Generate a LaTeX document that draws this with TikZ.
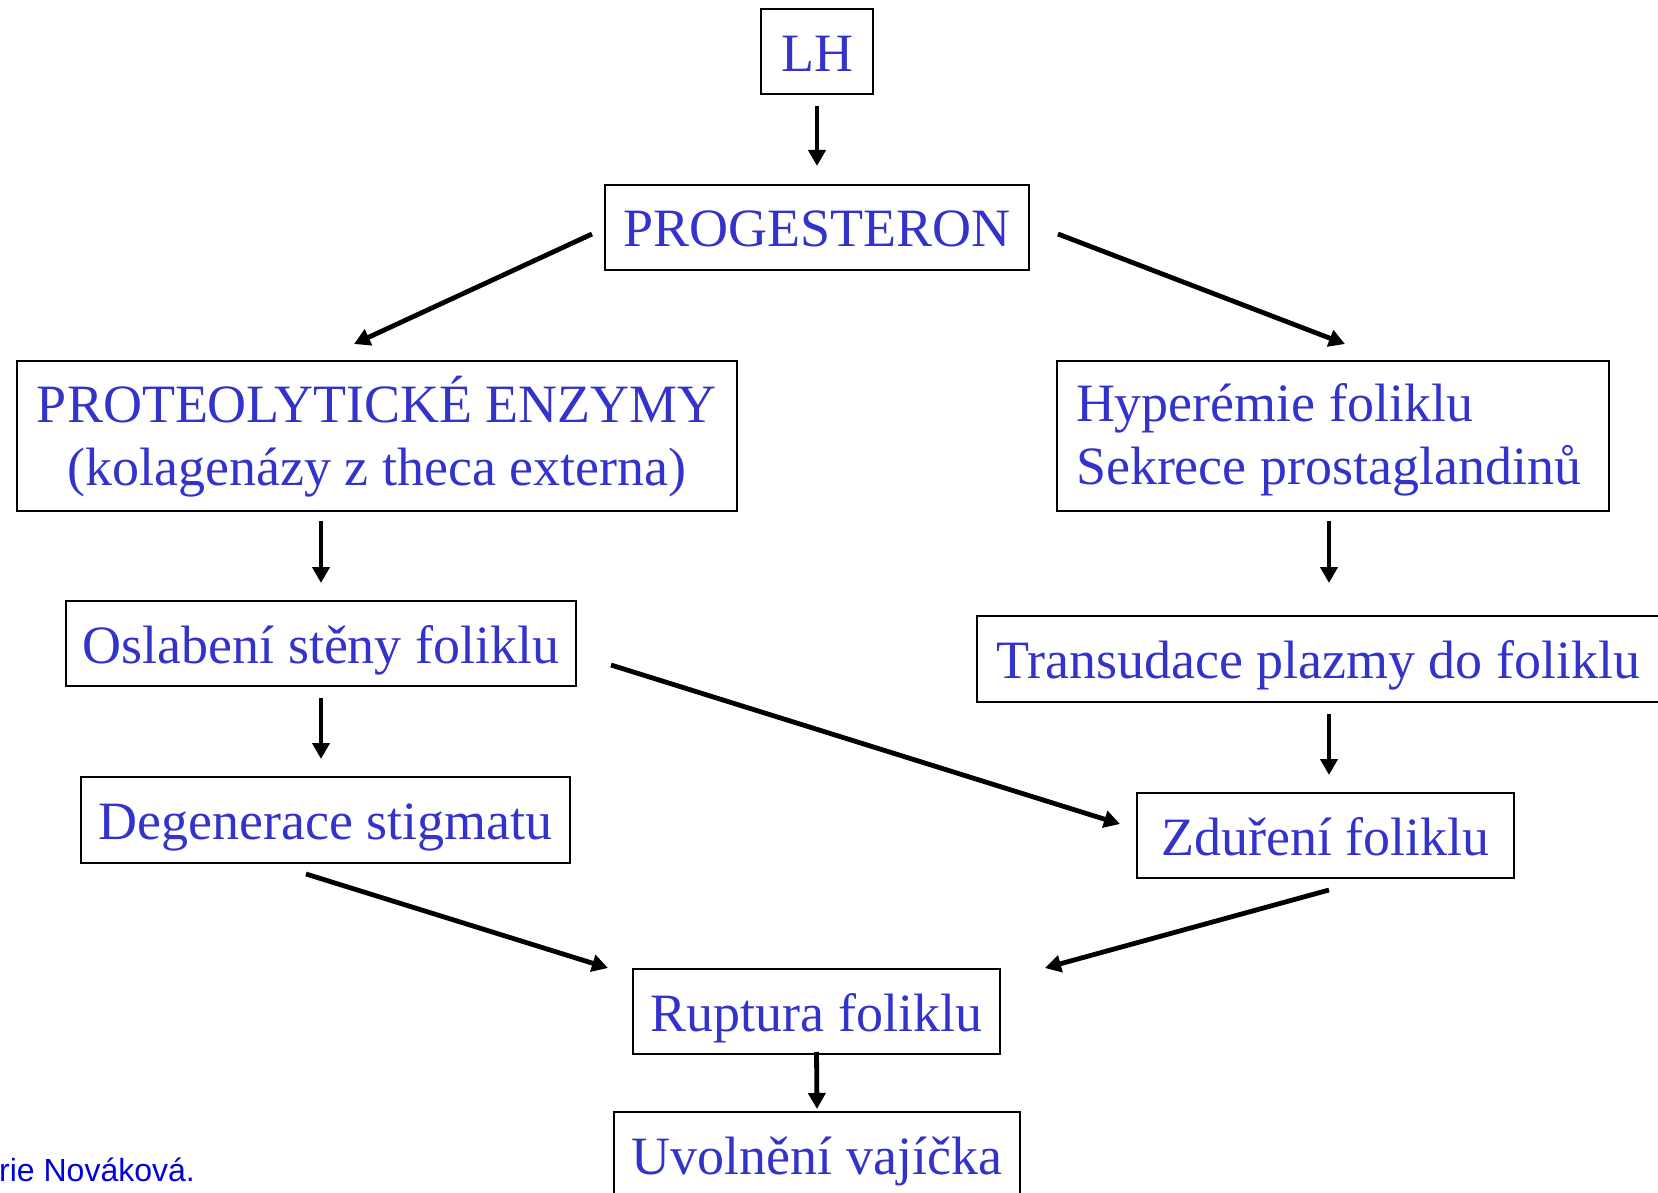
\documentclass[tikz,border=0pt]{standalone}
\usepackage{fontspec}
\setmainfont{Liberation Serif}
\newfontfamily\arialfont{Liberation Sans}
\usetikzlibrary{arrows.meta,calc}
\definecolor{txtblue}{RGB}{51,51,204}
\definecolor{signblue}{RGB}{0,0,220}
\begin{document}
\begin{tikzpicture}[x=1pt,y=-1pt,
  box/.style={draw=black,line width=2pt,inner sep=0pt,text=txtblue,
    font=\fontsize{54}{63}\selectfont,align=center,text height=39pt,text depth=0pt},
  twoline/.style={text height=98pt,text depth=0pt},
  arr/.style={line width=4.8pt,-{Triangle[length=16pt,width=17pt]}}]
\useasboundingbox (0,0) rectangle (1658,1193);
\clip (0,0) rectangle (1658,1193);

\node[box,minimum width=112pt,minimum height=85pt] (LH) at (817,52) {LH};
\node[box,minimum width=424pt,minimum height=85pt] (PROG) at (817,227.5) {PROGESTERON};
\node[box,twoline,minimum width=720pt,minimum height=150pt] (PROT) at (377,436)
  {PROTEOLYTICKÉ ENZYMY\\(kolagenázy z theca externa)};
\node[box,minimum width=552pt,minimum height=150pt,text width=514pt,align=flush left,
  text height=35pt,text depth=63.6pt] (HYP) at (1333,436)
  {Hyperémie foliklu\\Sekrece prostaglandinů};
\node[box,minimum width=688pt,minimum height=86pt,text width=650pt,align=flush left] (TRA) at (1321,659)
  {Transudace plazmy do foliklu};
\node[box,minimum width=510pt,minimum height=85pt] (OSL) at (321,643.5) {Oslabení stěny foliklu};
\node[box,minimum width=489pt,minimum height=86pt] (DEG) at (325.5,820) {Degenerace stigmatu};
\node[box,minimum width=377pt,minimum height=85pt] (ZDU) at (1325.5,835.5) {Zduření foliklu};
\node[box,minimum width=367pt,minimum height=85pt] (RUP) at (816.5,1011.5) {Ruptura foliklu};
\node[box,minimum width=406pt,minimum height=85pt] (UVO) at (817,1154.5) {Uvolnění vajíčka};

\node[anchor=base west,inner sep=0pt,text=signblue,font=\arialfont\fontsize{32}{37}\selectfont] (SIG) at (-1,1181) {rie Nováková.};

\draw[arr] ($(LH.south)+(0,11)$) -- ($(PROG.north)+(0,-18)$);
\draw[arr] ($(PROG.west)+(-12,6.5)$) -- ($(PROT.north)+(-23,-16)$);
\draw[arr] ($(PROG.east)+(28,6.5)$) -- ($(HYP.north)+(12,-16)$);
\draw[arr] ($(OSL.north |- PROT.south)+(0,9)$) -- ($(OSL.north)+(0,-17)$);
\draw[arr] ($(HYP.south)+(-4,9)$) -- ($(HYP.south |- TRA.north)+(-4,-32)$);
\draw[arr] ($(OSL.south)+(0,11)$) -- ($(OSL.south |- DEG.north)+(0,-17)$);
\draw[arr] ($(ZDU.north |- TRA.south)+(3.5,11)$) -- ($(ZDU.north)+(3.5,-17)$);
\draw[arr] ($(OSL.east)+(34,21.5)$) -- ($(ZDU.west)+(-16,-11.5)$);
\draw[arr] ($(DEG.south)+(-19.5,10)$) -- ($(RUP.west)+(-24,-43.5)$);
\draw[arr] ($(ZDU.south)+(3.5,11)$) -- ($(RUP.east)+(44,-43.5)$);
\draw[arr] ($(RUP.south)+(0,-3)$) -- ($(UVO.north)+(0,-2)$);
\end{tikzpicture}
\end{document}
